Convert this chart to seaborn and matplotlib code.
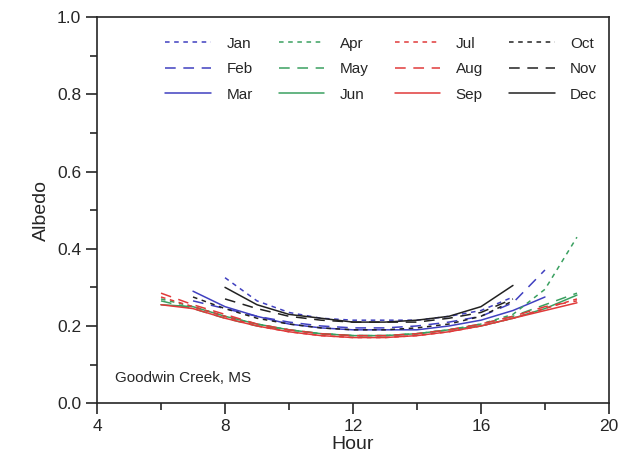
import matplotlib
matplotlib.use("Agg")
import matplotlib.pyplot as plt
from matplotlib.ticker import MultipleLocator
import seaborn as sns
import pandas as pd

# hourly albedo, Goodwin Creek MS
hours_winter = [8, 9, 10, 11, 12, 13, 14, 15, 16, 17]
hours_spring = [7, 8, 9, 10, 11, 12, 13, 14, 15, 16, 17, 18]
hours_summer = [6, 7, 8, 9, 10, 11, 12, 13, 14, 15, 16, 17, 18, 19]
hours_oct = [7, 8, 9, 10, 11, 12, 13, 14, 15, 16, 17]

jan = [0.325, 0.265, 0.235, 0.22, 0.215, 0.215, 0.215, 0.225, 0.24, 0.275]
feb = [0.265, 0.245, 0.225, 0.21, 0.2, 0.195, 0.195, 0.2, 0.21, 0.225, 0.26, 0.345]
mar = [0.29, 0.25, 0.225, 0.205, 0.195, 0.19, 0.19, 0.19, 0.2, 0.215, 0.24, 0.275]
apr = [0.27, 0.25, 0.225, 0.205, 0.19, 0.18, 0.175, 0.175, 0.18, 0.19, 0.205, 0.23, 0.295, 0.43]
may = [0.265, 0.245, 0.22, 0.2, 0.19, 0.18, 0.175, 0.175, 0.18, 0.19, 0.205, 0.225, 0.255, 0.285]
jun = [0.255, 0.25, 0.225, 0.205, 0.19, 0.18, 0.175, 0.175, 0.18, 0.19, 0.2, 0.22, 0.245, 0.28]
jul = [0.275, 0.25, 0.225, 0.2, 0.185, 0.175, 0.17, 0.17, 0.175, 0.185, 0.2, 0.22, 0.245, 0.27]
aug = [0.285, 0.255, 0.23, 0.205, 0.19, 0.18, 0.175, 0.175, 0.18, 0.19, 0.205, 0.225, 0.25, 0.265]
sep = [0.255, 0.245, 0.22, 0.2, 0.185, 0.175, 0.17, 0.17, 0.175, 0.185, 0.2, 0.22, 0.24, 0.26]
oct_ = [0.275, 0.245, 0.22, 0.205, 0.195, 0.19, 0.19, 0.195, 0.205, 0.225, 0.265]
nov = [0.27, 0.245, 0.225, 0.215, 0.21, 0.21, 0.21, 0.22, 0.235, 0.27]
dec = [0.30, 0.255, 0.23, 0.22, 0.21, 0.21, 0.215, 0.225, 0.25, 0.305]

months = ["Jan", "Feb", "Mar", "Apr", "May", "Jun",
          "Jul", "Aug", "Sep", "Oct", "Nov", "Dec"]
series = {
    "Jan": (hours_winter, jan), "Feb": (hours_spring, feb), "Mar": (hours_spring, mar),
    "Apr": (hours_summer, apr), "May": (hours_summer, may), "Jun": (hours_summer, jun),
    "Jul": (hours_summer, jul), "Aug": (hours_summer, aug), "Sep": (hours_summer, sep),
    "Oct": (hours_oct, oct_), "Nov": (hours_winter, nov), "Dec": (hours_winter, dec),
}

rows = []
for m in months:
    hrs, vals = series[m]
    for h, v in zip(hrs, vals):
        rows.append({"Hour": h, "Albedo": v, "Month": m})
df = pd.DataFrame(rows)

blue, green, red, black = "#4040c0", "#3aa060", "#e03a3a", "#222222"
palette = {}
dashes = {}
for m, c in zip(months, [blue] * 3 + [green] * 3 + [red] * 3 + [black] * 3):
    palette[m] = c
for i, m in enumerate(months):
    dashes[m] = [(3, 3), (7, 5), ""][i % 3]

sns.set_style("ticks")
plt.rcParams["font.family"] = ["Liberation Sans", "DejaVu Sans"]

fig = plt.figure(figsize=(6.22, 4.76), dpi=100)
ax = fig.add_axes([0.156, 0.153, 0.823, 0.811])

sns.lineplot(data=df, x="Hour", y="Albedo", hue="Month", style="Month",
             palette=palette, dashes=dashes, hue_order=months, style_order=months,
             linewidth=1.1, ax=ax, legend=False)

handles = [plt.Line2D([], [], color=palette[m], lw=1.1,
                      dashes=dashes[m] if dashes[m] else (None, None),
                      linestyle="-") for m in months]
ax.legend(handles, months, ncol=4, loc="upper center", frameon=False,
          fontsize=11, handlelength=3.0, handletextpad=1.0, columnspacing=1.7,
          labelspacing=0.75, bbox_to_anchor=(0.555, 0.985))

ax.text(4.55, 0.055, "Goodwin Creek, MS", fontsize=11)

ax.set_xlim(4, 20)
ax.set_ylim(0, 1.0)
ax.xaxis.set_major_locator(MultipleLocator(4))
ax.xaxis.set_minor_locator(MultipleLocator(2))
ax.yaxis.set_major_locator(MultipleLocator(0.2))
ax.yaxis.set_minor_locator(MultipleLocator(0.1))
ax.set_yticklabels([f"{v:.1f}" for v in ax.get_yticks()])
ax.tick_params(which="major", direction="out", length=8, width=1.2, labelsize=12.5)
ax.tick_params(which="minor", direction="out", length=5, width=1.2)
for s in ax.spines.values():
    s.set_linewidth(1.2)
ax.set_xlabel("Hour", fontsize=14, labelpad=1)
ax.set_ylabel("Albedo", fontsize=14, labelpad=5)

fig.savefig("out.png", dpi=100)
